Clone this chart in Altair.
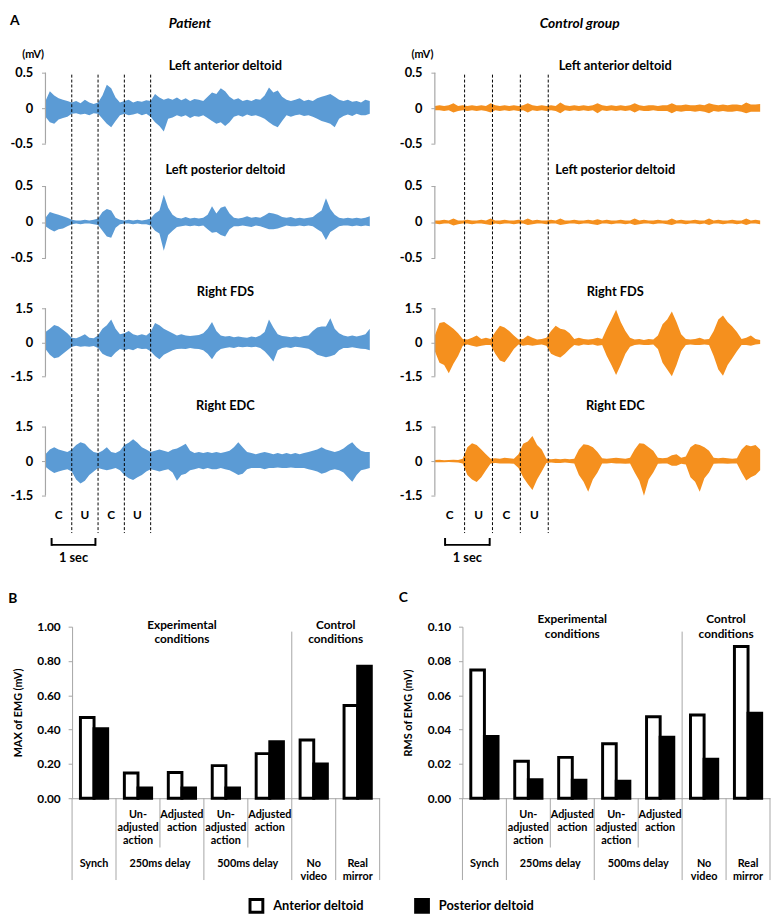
import altair as alt
import pandas as pd

FONT = "Lato"
BLUE = "#5B9BD5"
ORANGE = "#F5901E"
GRAY = "#A6A6A6"

# ---------------- Panel A data (EMG envelopes, mV) ----------------
P_TIME = [round(0.1 * i, 1) for i in range(75)]   # patient sampling grid (s)
C_TIME = [round(0.1 * i, 1) for i in range(71)]   # control sampling grid (s)

P_AD_UP = [0.10,0.24,0.18,0.14,0.12,0.10,0.08,0.10,0.07,0.12,
           0.08,0.06,0.08,0.18,0.33,0.28,0.15,0.08,0.10,0.12,
           0.08,0.10,0.09,0.11,0.10,0.20,0.15,0.12,0.14,0.12,
           0.15,0.11,0.14,0.10,0.13,0.12,0.10,0.16,0.22,0.20,
           0.28,0.24,0.16,0.12,0.14,0.10,0.12,0.10,0.13,0.12,
           0.18,0.29,0.22,0.25,0.16,0.12,0.10,0.12,0.14,0.10,
           0.12,0.10,0.14,0.16,0.18,0.20,0.16,0.12,0.10,0.12,
           0.09,0.10,0.08,0.12,0.10]
P_AD_LO = [-0.12,-0.20,-0.22,-0.16,-0.14,-0.12,-0.08,-0.07,-0.09,-0.08,
           -0.10,-0.07,-0.08,-0.15,-0.22,-0.27,-0.18,-0.10,-0.08,-0.10,
           -0.09,-0.07,-0.10,-0.08,-0.12,-0.20,-0.25,-0.33,-0.15,-0.13,
           -0.10,-0.12,-0.10,-0.14,-0.11,-0.12,-0.10,-0.14,-0.18,-0.22,
           -0.20,-0.25,-0.20,-0.12,-0.10,-0.12,-0.09,-0.11,-0.10,-0.12,
           -0.15,-0.20,-0.24,-0.27,-0.18,-0.10,-0.12,-0.10,-0.09,-0.11,
           -0.10,-0.12,-0.15,-0.18,-0.20,-0.22,-0.27,-0.15,-0.11,-0.09,
           -0.11,-0.08,-0.10,-0.10,-0.08]
P_PD_UP = [0.06,0.14,0.12,0.10,0.08,0.06,0.03,0.02,0.02,0.03,
           0.02,0.03,0.05,0.14,0.18,0.16,0.06,0.03,0.02,0.03,
           0.02,0.03,0.02,0.03,0.05,0.12,0.16,0.38,0.20,0.10,
           0.06,0.05,0.07,0.05,0.06,0.05,0.06,0.10,0.22,0.12,
           0.20,0.22,0.12,0.06,0.05,0.06,0.08,0.06,0.07,0.06,
           0.09,0.13,0.12,0.10,0.07,0.06,0.07,0.05,0.06,0.05,
           0.06,0.07,0.12,0.16,0.33,0.18,0.10,0.06,0.05,0.06,
           0.05,0.06,0.05,0.06,0.08]
P_PD_LO = [-0.06,-0.10,-0.13,-0.10,-0.09,-0.06,-0.03,-0.02,-0.03,-0.02,
           -0.02,-0.03,-0.04,-0.12,-0.20,-0.22,-0.08,-0.03,-0.02,-0.02,
           -0.03,-0.02,-0.03,-0.03,-0.05,-0.12,-0.16,-0.40,-0.18,-0.12,
           -0.07,-0.06,-0.05,-0.06,-0.05,-0.06,-0.05,-0.10,-0.15,-0.14,
           -0.18,-0.20,-0.10,-0.06,-0.06,-0.05,-0.06,-0.07,-0.05,-0.06,
           -0.08,-0.10,-0.10,-0.09,-0.07,-0.05,-0.06,-0.06,-0.05,-0.06,
           -0.05,-0.06,-0.10,-0.14,-0.25,-0.14,-0.10,-0.06,-0.05,-0.05,
           -0.06,-0.05,-0.06,-0.05,-0.06]
P_FDS_UP = [0.45,0.60,0.76,0.70,0.55,0.40,0.20,0.18,0.25,0.35,
            0.20,0.18,0.30,0.60,0.75,1.00,0.60,0.35,0.40,0.50,
            0.35,0.30,0.35,0.30,0.45,0.85,0.75,0.60,0.50,0.40,
            0.30,0.35,0.30,0.28,0.30,0.32,0.40,0.60,0.90,0.50,
            0.30,0.25,0.28,0.22,0.25,0.22,0.20,0.25,0.22,0.30,
            0.45,1.00,0.65,0.35,0.28,0.25,0.22,0.25,0.22,0.28,
            0.30,0.50,0.65,0.70,0.70,1.06,0.60,0.40,0.30,0.25,
            0.30,0.25,0.30,0.35,0.60]
P_FDS_LO = [-0.30,-0.55,-0.70,-0.66,-0.50,-0.35,-0.20,-0.15,-0.20,-0.18,
            -0.20,-0.16,-0.25,-0.50,-0.60,-0.66,-0.45,-0.30,-0.35,-0.30,
            -0.35,-0.25,-0.30,-0.28,-0.40,-0.60,-0.75,-0.55,-0.45,-0.35,
            -0.30,-0.28,-0.30,-0.25,-0.28,-0.30,-0.35,-0.50,-0.75,-0.45,
            -0.30,-0.25,-0.22,-0.25,-0.20,-0.22,-0.20,-0.22,-0.20,-0.25,
            -0.40,-0.60,-0.85,-0.35,-0.25,-0.22,-0.25,-0.20,-0.22,-0.25,
            -0.28,-0.40,-0.55,-0.60,-0.66,-0.62,-0.55,-0.35,-0.25,-0.25,
            -0.22,-0.25,-0.28,-0.30,-0.35]
P_EDC_UP = [0.30,0.50,0.60,0.50,0.45,0.40,0.50,0.70,0.82,0.75,
            0.55,0.40,0.35,0.45,0.60,0.40,0.35,0.45,0.70,0.80,
            0.95,0.80,0.60,0.50,0.40,0.45,0.50,0.45,0.40,0.50,
            0.55,0.65,0.75,0.45,0.35,0.40,0.35,0.40,0.35,0.40,
            0.35,0.40,0.45,0.60,0.82,0.60,0.40,0.35,0.30,0.35,
            0.40,0.35,0.30,0.35,0.30,0.35,0.30,0.35,0.30,0.35,
            0.40,0.45,0.50,0.60,0.50,0.45,0.40,0.45,0.55,0.70,
            0.82,0.60,0.45,0.40,0.40]
P_EDC_LO = [-0.25,-0.40,-0.52,-0.45,-0.40,-0.35,-0.45,-0.80,-0.97,-0.85,
            -0.60,-0.45,-0.30,-0.35,-0.40,-0.35,-0.30,-0.40,-0.60,-0.75,
            -0.82,-0.70,-0.60,-0.45,-0.35,-0.40,-0.45,-0.40,-0.35,-0.50,
            -0.85,-0.60,-0.55,-0.40,-0.35,-0.30,-0.35,-0.30,-0.35,-0.35,
            -0.30,-0.35,-0.40,-0.50,-0.60,-0.55,-0.35,-0.30,-0.30,-0.30,
            -0.35,-0.30,-0.30,-0.28,-0.30,-0.30,-0.28,-0.30,-0.30,-0.30,
            -0.35,-0.40,-0.45,-0.55,-0.50,-0.40,-0.35,-0.40,-0.50,-0.70,
            -0.90,-0.60,-0.40,-0.35,-0.30]

C_AD_UP = [0.03,0.04,0.03,0.04,0.07,0.03,0.04,0.03,0.04,0.03,
           0.04,0.03,0.07,0.04,0.03,0.04,0.03,0.04,0.03,0.04,
           0.07,0.04,0.03,0.04,0.03,0.04,0.03,0.08,0.04,0.03,
           0.04,0.03,0.04,0.03,0.04,0.07,0.04,0.03,0.04,0.03,
           0.04,0.03,0.04,0.07,0.04,0.03,0.04,0.04,0.03,0.04,
           0.04,0.07,0.04,0.04,0.05,0.04,0.04,0.05,0.04,0.07,
           0.05,0.04,0.05,0.04,0.05,0.05,0.04,0.08,0.05,0.05,
           0.06]
C_AD_LO = [-0.03,-0.03,-0.04,-0.03,-0.06,-0.04,-0.03,-0.04,-0.03,-0.04,
           -0.03,-0.04,-0.06,-0.03,-0.04,-0.03,-0.04,-0.03,-0.04,-0.03,
           -0.06,-0.03,-0.04,-0.03,-0.04,-0.03,-0.04,-0.07,-0.03,-0.04,
           -0.03,-0.04,-0.03,-0.04,-0.03,-0.07,-0.03,-0.04,-0.03,-0.04,
           -0.03,-0.04,-0.03,-0.06,-0.03,-0.04,-0.04,-0.03,-0.04,-0.04,
           -0.04,-0.07,-0.04,-0.05,-0.04,-0.04,-0.05,-0.04,-0.05,-0.07,
           -0.04,-0.05,-0.04,-0.05,-0.05,-0.04,-0.05,-0.07,-0.05,-0.05,
           -0.05]
C_PD_UP = [0.02,0.02,0.03,0.02,0.05,0.02,0.02,0.03,0.02,0.02,
           0.03,0.02,0.05,0.02,0.02,0.03,0.02,0.02,0.03,0.02,
           0.05,0.02,0.03,0.02,0.02,0.03,0.02,0.05,0.02,0.02,
           0.03,0.02,0.02,0.03,0.02,0.04,0.02,0.03,0.02,0.02,
           0.03,0.02,0.02,0.05,0.02,0.03,0.02,0.02,0.03,0.02,
           0.02,0.05,0.02,0.03,0.02,0.02,0.03,0.02,0.02,0.05,
           0.02,0.03,0.02,0.02,0.03,0.02,0.02,0.05,0.02,0.03,
           0.02]
C_PD_LO = [-0.02,-0.03,-0.02,-0.02,-0.05,-0.03,-0.02,-0.02,-0.03,-0.02,
           -0.02,-0.03,-0.04,-0.02,-0.03,-0.02,-0.02,-0.03,-0.02,-0.02,
           -0.04,-0.03,-0.02,-0.02,-0.03,-0.02,-0.02,-0.04,-0.03,-0.02,
           -0.02,-0.03,-0.02,-0.02,-0.03,-0.04,-0.02,-0.02,-0.03,-0.02,
           -0.02,-0.03,-0.02,-0.04,-0.03,-0.02,-0.02,-0.03,-0.02,-0.02,
           -0.03,-0.04,-0.02,-0.02,-0.03,-0.02,-0.02,-0.03,-0.02,-0.04,
           -0.02,-0.02,-0.03,-0.02,-0.02,-0.03,-0.02,-0.04,-0.02,-0.02,
           -0.03]
C_FDS_UP = [0.30,0.85,0.90,0.75,0.60,0.40,0.15,0.12,0.20,0.30,
            0.15,0.20,0.15,0.45,0.73,0.65,0.50,0.30,0.12,0.15,
            0.30,0.20,0.12,0.15,0.20,0.50,0.73,0.60,0.55,0.40,
            0.15,0.20,0.15,0.12,0.15,0.20,0.15,0.60,1.00,1.43,
            0.90,0.50,0.20,0.12,0.15,0.10,0.15,0.12,0.30,0.80,
            1.00,1.36,0.90,0.35,0.15,0.12,0.15,0.20,0.12,0.15,
            0.50,1.00,1.18,0.90,0.70,0.45,0.15,0.20,0.30,0.15,
            0.10]
C_FDS_LO = [-0.40,-0.90,-1.00,-1.37,-0.95,-0.60,-0.15,-0.10,-0.15,-0.20,
            -0.15,-0.12,-0.12,-0.50,-0.80,-0.88,-0.60,-0.30,-0.10,-0.15,
            -0.12,-0.15,-0.12,-0.10,-0.15,-0.50,-0.60,-0.67,-0.50,-0.30,
            -0.12,-0.15,-0.10,-0.12,-0.10,-0.15,-0.12,-0.60,-1.00,-1.44,
            -1.00,-0.50,-0.20,-0.12,-0.10,-0.12,-0.12,-0.10,-0.30,-0.90,
            -1.20,-1.50,-1.00,-0.40,-0.12,-0.10,-0.12,-0.12,-0.10,-0.12,
            -0.60,-1.20,-1.48,-1.00,-0.70,-0.40,-0.12,-0.12,-0.15,-0.10,
            -0.08]
C_EDC_UP = [0.05,0.06,0.04,0.05,0.06,0.05,0.10,0.60,0.77,0.70,
            0.50,0.30,0.10,0.12,0.10,0.15,0.12,0.10,0.30,0.75,
            0.85,1.09,0.70,0.50,0.10,0.08,0.10,0.08,0.10,0.08,
            0.10,0.50,0.73,0.70,0.60,0.40,0.12,0.10,0.12,0.15,
            0.12,0.10,0.15,0.50,0.77,0.75,0.60,0.45,0.15,0.12,
            0.15,0.25,0.30,0.15,0.20,0.60,0.74,0.70,0.60,0.45,
            0.15,0.12,0.15,0.12,0.10,0.12,0.50,0.70,0.65,0.70,
            0.50]
C_EDC_LO = [-0.05,-0.05,-0.05,-0.04,-0.05,-0.06,-0.10,-0.60,-0.80,-0.91,
            -0.70,-0.40,-0.10,-0.08,-0.10,-0.10,-0.10,-0.12,-0.30,-0.70,
            -1.00,-1.26,-0.80,-0.45,-0.08,-0.06,-0.08,-0.08,-0.06,-0.08,
            -0.10,-0.60,-0.90,-1.33,-0.80,-0.50,-0.10,-0.10,-0.08,-0.10,
            -0.10,-0.12,-0.10,-0.50,-0.85,-1.51,-0.80,-0.50,-0.12,-0.10,
            -0.10,-0.20,-0.20,-0.12,-0.15,-0.70,-0.90,-1.33,-0.75,-0.50,
            -0.12,-0.10,-0.10,-0.12,-0.10,-0.10,-0.50,-0.84,-0.70,-0.60,
            -0.40]

MUSCLES = ["Left anterior deltoid", "Left posterior deltoid", "Right FDS", "Right EDC"]
TICK_MV = [0.5, 0.5, 1.5, 1.5]
SEG_LABELS = ["C", "U", "C", "U"]
P_BOUNDS = [0.6, 1.2, 1.8, 2.4]       # s
C_BOUNDS = [0.64, 1.24, 1.84, 2.44]   # s
P_SEC = [0.14, 1.14]
C_SEC = [0.22, 1.18]

# ---------------- Panels B / C data ----------------
COND_SUB = ["", "Un-\nadjusted\naction", "Adjusted\naction", "Un-\nadjusted\naction",
            "Adjusted\naction", "", ""]
GROUP_LABELS = ["Synch", "250ms delay", "500ms delay", "No\nvideo", "Real\nmirror"]
GROUP_SIZES = [1, 2, 2, 1, 1]
SECTION_LABELS = ["Experimental\nconditions", "Control\nconditions"]
SECTION_SIZES = [5, 2]
MUSCLE_NAMES = ["Anterior deltoid", "Posterior deltoid"]
MAX_ANT = [0.47, 0.147, 0.15, 0.19, 0.26, 0.34, 0.54]
MAX_POST = [0.405, 0.06, 0.06, 0.06, 0.33, 0.20, 0.77]
RMS_ANT = [0.0747, 0.0215, 0.0238, 0.0317, 0.0475, 0.0485, 0.0884]
RMS_POST = [0.036, 0.0108, 0.0105, 0.0099, 0.0356, 0.0228, 0.0496]
MAX_TICKS = [0.0, 0.2, 0.4, 0.6, 0.8, 1.0]
RMS_TICKS = [0.0, 0.02, 0.04, 0.06, 0.08, 0.10]

# ---------------- layout constants (pixels) ----------------
LAY = [(24, 72, 12), (29, 73, 15), (34, 69, 16), (33, 70, 72)]  # top pad, tick span, bottom pad
TITLE_OFF = [-24, -20, -25, -20]
P_W, C_W = 329, 330
BAR_W, BAR_H = 312, 174
BW = 0.31  # bar width in category units

TXT = dict(font=FONT, fontWeight="bold", color="black")


def trace_panel(times, up, lo, color, k, bounds, sec, width):
    tick = TICK_MV[k]
    top_pad, span, bot_pad = LAY[k]
    H = top_pad + span + bot_pad
    per = 2 * tick / span
    ys = alt.Scale(domain=[-tick - bot_pad * per, tick + top_pad * per], nice=False, zero=False)
    xs = alt.Scale(domain=[0, times[-1]], nice=False, zero=False)
    first, last = k == 0, k == 3
    ax = dict(values=[-tick, 0, tick], labelExpr="'' + datum.value", domain=False, grid=False,
              tickColor=GRAY, tickSize=4, tickWidth=1, labelPadding=9, labelFont=FONT,
              labelFontSize=13, labelFontWeight="bold", labelColor="black")
    if first:
        ax.update(titleAngle=0, titleAlign="center", titleBaseline="middle",
                  titleX=-13, titleY=6, titleFont=FONT, titleFontSize=11,
                  titleFontWeight="bold", titleColor="black")
    ytitle = "(mV)" if first else None

    def Y(field):
        return alt.Y(field, scale=ys, axis=alt.Axis(**ax), title=ytitle)

    def X(field):
        return alt.X(field, scale=xs, axis=None)

    df = pd.DataFrame({"t": times, "up": up, "lo": lo})
    area = alt.Chart(df).mark_area(color=color, opacity=1).encode(
        x=X("t:Q"), y=Y("lo:Q"), y2="up:Q")
    bracket = alt.Chart(pd.DataFrame({"lo": [-tick], "up": [tick]})).mark_rule(
        color=GRAY, strokeWidth=1.2).encode(x=alt.value(0), y=Y("lo:Q"), y2="up:Q")
    y0 = top_pad + 2 if first else 0
    y1 = top_pad + span + 38 if last else H
    dash = alt.Chart(pd.DataFrame({"t": bounds})).mark_rule(
        color="black", strokeDash=[3, 2], strokeWidth=1).encode(
        x=X("t:Q"), y=alt.value(y0), y2=alt.value(y1))
    layers = [area, bracket, dash]
    if last:
        edges = [0] + bounds
        mids = [(edges[i] + edges[i + 1]) / 2 for i in range(len(bounds))]
        base = top_pad + span
        layers.append(alt.Chart(pd.DataFrame({"t": mids, "lab": SEG_LABELS})).mark_text(
            fontSize=12, baseline="middle", **TXT).encode(
            x=X("t:Q"), y=alt.value(base + 20), text="lab:N"))
        layers.append(alt.Chart(pd.DataFrame({"t": [sec[0]], "t2": [sec[1]]})).mark_rule(
            color="black", strokeWidth=2).encode(
            x=X("t:Q"), x2="t2:Q", y=alt.value(base + 50)))
        layers.append(alt.Chart(pd.DataFrame({"t": sec})).mark_rule(
            color="black", strokeWidth=2).encode(
            x=X("t:Q"), y=alt.value(base + 43), y2=alt.value(base + 51)))
        layers.append(alt.Chart(pd.DataFrame({"t": [(sec[0] + sec[1]) / 2], "lab": ["1 sec"]})).mark_text(
            fontSize=13, baseline="middle", **TXT).encode(
            x=X("t:Q"), y=alt.value(base + 63), text="lab:N"))
    return alt.layer(*layers).properties(
        width=width, height=H,
        title=alt.TitleParams(MUSCLES[k], anchor="middle", frame="group", dx=18,
                              offset=TITLE_OFF[k], font=FONT, fontSize=13,
                              fontWeight="bold", color="black"))


def column(times, traces, color, bounds, sec, width, name):
    panels = [trace_panel(times, u, l, color, k, bounds, sec, width) for k, (u, l) in enumerate(traces)]
    return alt.vconcat(*panels, spacing=0, title=alt.TitleParams(
        name, anchor="middle", frame="bounds", font=FONT, fontSize=14, fontWeight="bold",
        fontStyle="italic", color="black", offset=18))


LEGEND = alt.Legend(orient="none", legendX=206, legendY=861, direction="horizontal",
                    title=None, symbolType="square", symbolSize=169,
                    symbolStrokeColor="black", symbolStrokeWidth=3,
                    labelFont=FONT, labelFontSize=13, labelFontWeight="bold",
                    labelColor="black", labelOffset=9, columnPadding=45, padding=0)


def bar_panel(letter, ant, post, ymax, yticks, ytitle, sect_y, letter_off, lead):
    n = len(COND_SUB)
    H = BAR_H
    xs = alt.Scale(domain=[0, n], range=[lead, lead + BAR_W], nice=False, zero=False)
    ys = alt.Scale(domain=[0, ymax], nice=False)
    xax = alt.Axis(domain=True, domainColor=GRAY, ticks=False, labels=False, grid=False)

    def X(field):
        return alt.X(field, scale=xs, axis=xax, title=None)

    rows = []
    for i, (a, p) in enumerate(zip(ant, post)):
        rows.append({"x": i + 0.5 - BW, "x2": i + 0.5, "v": a, "muscle": MUSCLE_NAMES[0]})
        rows.append({"x": i + 0.5, "x2": i + 0.5 + BW, "v": p, "muscle": MUSCLE_NAMES[1]})
    bars = alt.Chart(pd.DataFrame(rows)).mark_bar(stroke="black", strokeWidth=3).encode(
        x=X("x:Q"), x2="x2:Q",
        y=alt.Y("v:Q", scale=ys, title=ytitle,
                axis=alt.Axis(values=yticks, format=".2f", grid=False, domainColor=GRAY,
                              tickColor=GRAY, tickSize=4, labelPadding=8, labelFont=FONT,
                              labelFontSize=12, labelFontWeight="bold", labelColor="black",
                              titleFont=FONT, titleFontSize=11, titleFontWeight="bold",
                              titleColor="black", titlePadding=14, offset=-lead)),
        y2=alt.datum(0),
        fill=alt.Fill("muscle:N", scale=alt.Scale(domain=MUSCLE_NAMES, range=["white", "black"]),
                      legend=LEGEND))
    # structure of the categorical axis
    g_edges = [0]
    for s in GROUP_SIZES:
        g_edges.append(g_edges[-1] + s)
    short = [g_edges[j] + m for j, s in enumerate(GROUP_SIZES) for m in range(1, s)]
    g_mid = [(g_edges[j] + g_edges[j + 1]) / 2 for j in range(len(GROUP_SIZES))]
    s_edges = [0]
    for s in SECTION_SIZES:
        s_edges.append(s_edges[-1] + s)
    s_mid = [(s_edges[j] + s_edges[j + 1]) / 2 for j in range(len(SECTION_SIZES))]
    full_r = alt.Chart(pd.DataFrame({"x": g_edges})).mark_rule(color=GRAY).encode(
        x=X("x:Q"), y=alt.value(H), y2=alt.value(H + 83))
    short_r = alt.Chart(pd.DataFrame({"x": short})).mark_rule(color=GRAY).encode(
        x=X("x:Q"), y=alt.value(H), y2=alt.value(H + 50))
    sep_r = alt.Chart(pd.DataFrame({"x": s_edges[1:-1]})).mark_rule(color=GRAY).encode(
        x=X("x:Q"), y=alt.value(5), y2=alt.value(H))
    sub_t = alt.Chart(pd.DataFrame({"x": [i + 0.5 for i in range(n)], "lab": COND_SUB})).mark_text(
        fontSize=11, lineBreak="\n", lineHeight=13, baseline="top", **TXT).encode(
        x=X("x:Q"), y=alt.value(H + 11), text="lab:N")
    grp_t = alt.Chart(pd.DataFrame({"x": g_mid, "lab": GROUP_LABELS})).mark_text(
        fontSize=11, lineBreak="\n", lineHeight=13, baseline="top", **TXT).encode(
        x=X("x:Q"), y=alt.value(H + 61), text="lab:N")
    sec_t = alt.Chart(pd.DataFrame({"x": s_mid, "lab": SECTION_LABELS})).mark_text(
        fontSize=12, lineBreak="\n", lineHeight=15, baseline="top", **TXT).encode(
        x=X("x:Q"), y=alt.value(sect_y), text="lab:N")
    return alt.layer(sep_r, full_r, short_r, bars, sub_t, grp_t, sec_t).properties(
        width=lead + BAR_W, height=H,
        title=alt.TitleParams(letter, anchor="start", frame="bounds", font=FONT, fontSize=14,
                              fontWeight="bold", color="black", offset=letter_off, dx=-4))


p_col = column(P_TIME, [(P_AD_UP, P_AD_LO), (P_PD_UP, P_PD_LO), (P_FDS_UP, P_FDS_LO),
                        (P_EDC_UP, P_EDC_LO)], BLUE, P_BOUNDS, P_SEC, P_W, "Patient")
c_col = column(C_TIME, [(C_AD_UP, C_AD_LO), (C_PD_UP, C_PD_LO), (C_FDS_UP, C_FDS_LO),
                        (C_EDC_UP, C_EDC_LO)], ORANGE, C_BOUNDS, C_SEC, C_W, "Control group")
top_row = alt.hconcat(p_col, c_col, spacing=29, title=alt.TitleParams(
    "A", anchor="start", frame="bounds", font=FONT, fontSize=14, fontWeight="bold",
    color="black", offset=-11))

b_chart = bar_panel("B", MAX_ANT, MAX_POST, 1.0, MAX_TICKS, "MAX of EMG (mV)", -7, 13, 27)
c_chart = bar_panel("C", RMS_ANT, RMS_POST, 0.1, RMS_TICKS, "RMS of EMG (mV)", -13, 8, 0)
bottom_row = alt.hconcat(b_chart, c_chart, spacing=18)

chart = alt.concat(top_row, bottom_row, columns=1, spacing=25).properties(
    padding={"left": 0, "top": 0, "right": 0, "bottom": 0}
).configure(font=FONT).configure_view(stroke=None)

chart.save("out.html", embed_options={"renderer": "svg", "actions": False})
